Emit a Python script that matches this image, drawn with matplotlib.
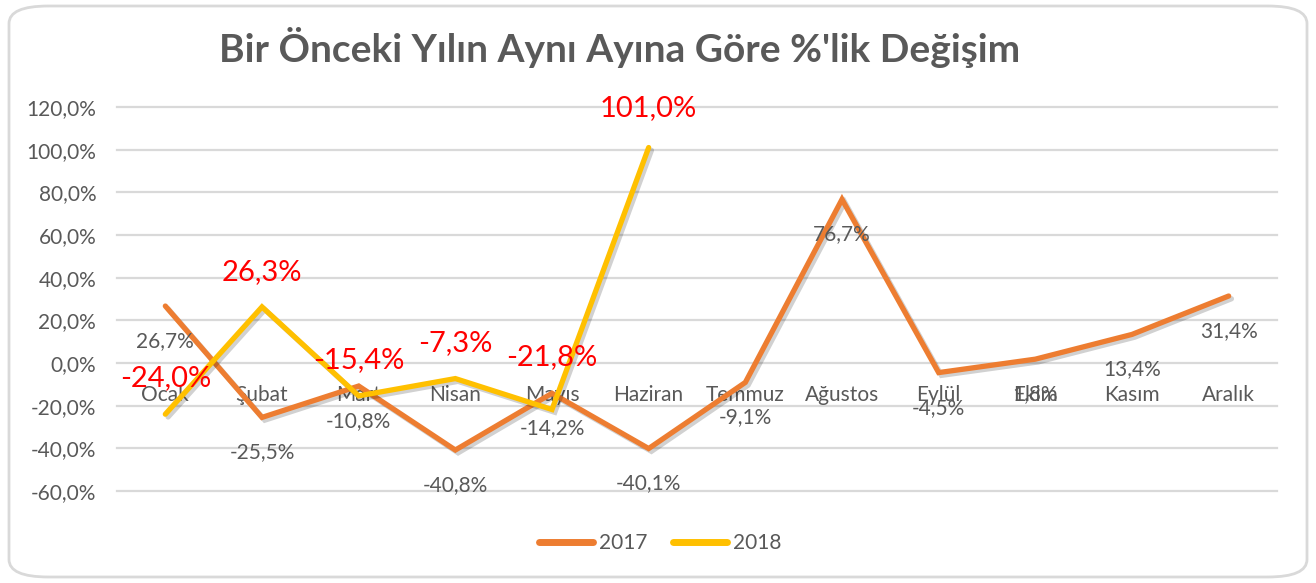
import matplotlib
matplotlib.use("Agg")
import matplotlib.pyplot as plt
import matplotlib.patheffects as pe
from matplotlib.patches import FancyBboxPatch
from matplotlib.lines import Line2D

months = ["Ocak", "Şubat", "Mart", "Nisan", "Mayıs", "Haziran", "Temmuz",
          "Ağustos", "Eylül", "Ekim", "Kasım", "Aralık"]
values_2017 = [26.7, -25.5, -10.8, -40.8, -14.2, -40.1, -9.1, 76.7, -4.5, 1.8, 13.4, 31.4]
values_2018 = [-24.0, 26.3, -15.4, -7.3, -21.8, 101.0]
label_offsets_2018 = [36, 35, 36, 36, 52, 39]
yticks = [-60, -40, -20, 0, 20, 40, 60, 80, 100, 120]
title = "Bir Önceki Yılın Aynı Ayına Göre %'lik Değişim"

FONT = ["Lato", "DejaVu Sans"]
plt.rcParams["font.family"] = FONT
GRAY = "#595959"
ORANGE = "#ED7D31"
YELLOW = "#FFC000"

W, H = 1316, 583
fig = plt.figure(figsize=(W / 100, H / 100), dpi=100)

# rounded outer border
border = FancyBboxPatch((9 / W, 6 / H), (W - 18) / W, (H - 12) / H,
                        boxstyle="round,pad=0,rounding_size=0.03",
                        transform=fig.transFigure, facecolor="none",
                        edgecolor="#d9d9d9", linewidth=2, zorder=-5)
fig.patches.append(border)

left, right = 117, 1277
top, bottom = 107, 491
ax = fig.add_axes([left / W, (H - bottom) / H, (right - left) / W, (bottom - top) / H])
ax.set_facecolor("none")
ax.set_zorder(2)
ax.set_xlim(-0.5, len(months) - 0.5)
ax.set_ylim(yticks[0], yticks[-1])
for s in ax.spines.values():
    s.set_visible(False)

for yv in yticks:
    ax.axhline(yv, color="#d9d9d9", lw=1.6, zorder=1, clip_on=False)

ax.set_yticks(yticks)
ax.set_yticklabels([f"{v:.1f}%".replace(".", ",") for v in yticks],
                   color=GRAY, fontsize=15)
ax.tick_params(axis="y", length=0, pad=15)
ax.set_xticks([])

# category labels below the 0 line
for i, m in enumerate(months):
    ax.text(i, -15, m, ha="center", va="center", color=GRAY, fontsize=15, zorder=2)

shadow = [pe.SimpleLineShadow(offset=(2, -2), shadow_color="black", alpha=0.18), pe.Normal()]
x17 = list(range(len(values_2017)))
x18 = list(range(len(values_2018)))
ax.plot(x17, values_2017, color=ORANGE, lw=3.8, solid_joinstyle="miter",
        solid_capstyle="round", path_effects=shadow, zorder=3, clip_on=False)
ax.plot(x18, values_2018, color=YELLOW, lw=3.8, solid_joinstyle="miter",
        solid_capstyle="round", path_effects=shadow, zorder=4, clip_on=False)

for x, v in zip(x17, values_2017):
    ax.annotate(f"{v:.1f}%".replace(".", ","), (x, v), xytext=(0, -35),
                textcoords="offset pixels", ha="center", va="center",
                color=GRAY, fontsize=15, zorder=5)
for x, v, off in zip(x18, values_2018, label_offsets_2018):
    ax.annotate(f"{v:.1f}%".replace(".", ","), (x, v), xytext=(0, off),
                textcoords="offset pixels", ha="center", va="center",
                color="#FF0000", fontsize=21, zorder=6)

fig.text(620 / W, 1 - 47 / H, title, ha="center", va="center",
         fontsize=28, fontweight="bold", color=GRAY)

handles = [Line2D([], [], color=ORANGE, lw=5, solid_capstyle="round"),
           Line2D([], [], color=YELLOW, lw=5, solid_capstyle="round")]
fig.legend(handles, ["2017", "2018"], loc="center", bbox_to_anchor=(660 / W, 1 - 543 / H),
           ncol=2, frameon=False, fontsize=15, labelcolor=GRAY,
           handlelength=2.6, handletextpad=0.3, columnspacing=1.2)

fig.savefig("out.png", dpi=100)
